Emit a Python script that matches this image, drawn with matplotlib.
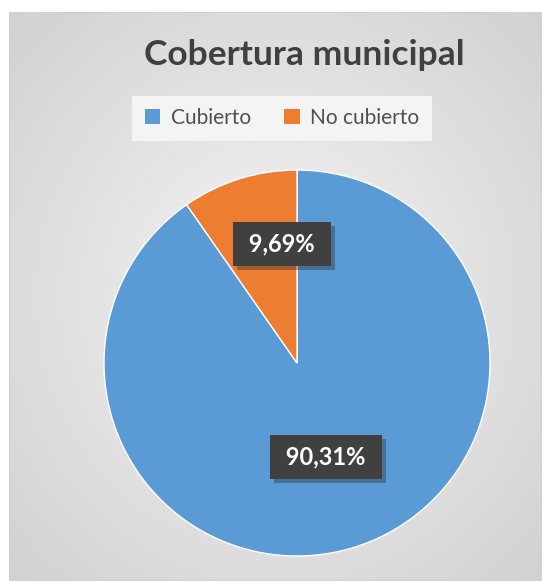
import numpy as np
import matplotlib
matplotlib.use('Agg')
import matplotlib.pyplot as plt
from matplotlib import patheffects
from matplotlib.patches import Rectangle

# Data
categories = ['Cubierto', 'No cubierto']
values = [90.31, 9.69]
colors = ['#5B9BD5', '#ED7D31']
title = 'Cobertura municipal'

plt.rcParams['font.family'] = ['Lato', 'DejaVu Sans']

W, H = 542, 581
fig = plt.figure(figsize=(W / 100, H / 100), dpi=100)

# Chart area with radial gradient background
bg = fig.add_axes([9 / W, 0, (W - 9) / W, (H - 12) / H])
yy, xx = np.mgrid[-1:1:300j, -1:1:300j]
rr = np.clip(np.sqrt(xx**2 + yy**2) / np.sqrt(2), 0, 1)
c0, c1 = 0.96, 0.82
grad = c0 + (c1 - c0) * rr
bg.imshow(np.dstack([grad] * 3), extent=[0, 1, 0, 1], aspect='auto')
bg.add_patch(Rectangle((0, 0), 1, 1, transform=bg.transAxes, fill=False,
                       edgecolor='#d0d0d0', lw=1.5))
bg.set_axis_off()

# Pie axes
cx, cy, r = 297, 363, 193
ax = fig.add_axes([(cx - r) / W, (H - cy - r) / H, 2 * r / W, 2 * r / H])
wedges, _ = ax.pie(values, colors=colors, startangle=90, counterclock=False,
                   radius=1, wedgeprops=dict(edgecolor='white', linewidth=1))
ax.set_xlim(-1, 1)
ax.set_ylim(-1, 1)
ax.set_axis_off()

# Data labels (dark boxes with shadow)
label_pos = [(0.15, -0.487), (-0.078, 0.617)]
for v, (lx, ly) in zip(values, label_pos):
    txt = ' ' + f'{v:.2f}%'.replace('.', ',') + ' '
    t = ax.text(lx, ly, txt, ha='center', va='center',
                color='white', fontsize=17, fontweight='bold',
                bbox=dict(boxstyle='square,pad=0.45', facecolor='#404040',
                          edgecolor='none'))
    t.get_bbox_patch().set_path_effects([
        patheffects.SimplePatchShadow(offset=(3, -3), shadow_rgbFace='#202020', alpha=0.35),
        patheffects.Normal()])

# Title
fig.text(304 / W, 1 - 55 / H, title, ha='center', va='center',
         fontsize=25.5, fontweight='bold', color='#404040')

# Legend
leg = fig.legend(wedges, categories, loc='center', bbox_to_anchor=(282 / W, 1 - 118 / H),
                 ncol=2, frameon=True, fancybox=False, edgecolor='none',
                 facecolor='#f4f4f4', framealpha=1, fontsize=15,
                 handlelength=0.75, handleheight=0.75, handletextpad=0.5,
                 columnspacing=1.6, borderpad=0.6, labelcolor='#505050')
for h in leg.legend_handles:
    h.set_edgecolor('none')

plt.savefig('out.png', dpi=100)
